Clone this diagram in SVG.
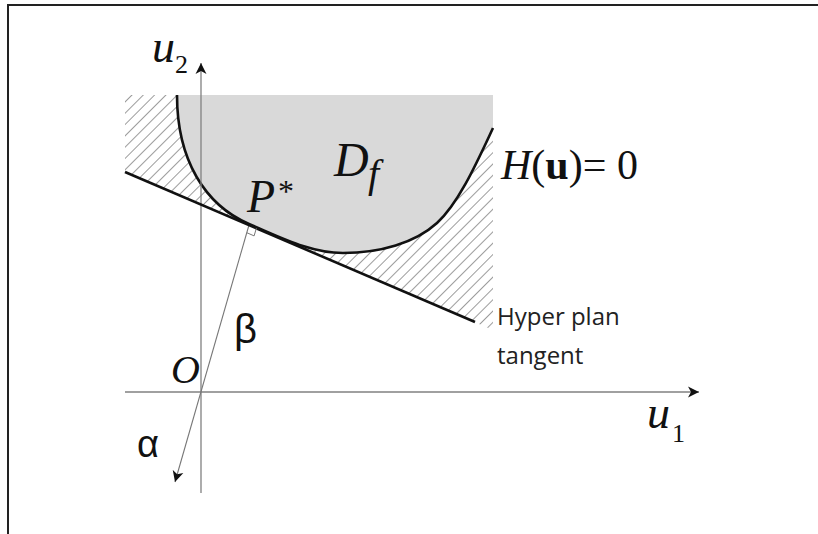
<svg xmlns="http://www.w3.org/2000/svg" width="818" height="534" viewBox="0 0 818 534">
<style>
.serif{font-family:"Liberation Serif","Times New Roman",serif;fill:#111}
.it{font-style:italic}
.sans{font-family:"Liberation Sans",Arial,sans-serif;fill:#111}
.note{font-family:"Open Sans","Liberation Sans",sans-serif;fill:#222}
.axis{stroke:#808080;stroke-width:1.3;fill:none}
.thick{stroke:#111;stroke-width:2.6;fill:none}
</style>
<defs>
<pattern id="hatch" width="8" height="8" patternUnits="userSpaceOnUse" patternTransform="rotate(45)">
<line x1="0" y1="0" x2="0" y2="8" stroke="#3a3a3a" stroke-width="1"/>
</pattern>
<marker id="arr" viewBox="0 0 12 12" refX="11" refY="6" markerWidth="12" markerHeight="12" markerUnits="userSpaceOnUse" orient="auto">
<path d="M0,0.5 L11,6 L0,11.5 L3,6 Z" fill="#111"/>
</marker>
<clipPath id="hclip"><polygon points="125,95 493,95 493,330 125,172"/></clipPath>
</defs>
<g id="frame"><polyline points="8,534 8,5 818,5" fill="none" stroke="#222" stroke-width="2"/></g>
<g id="hatched-region"><rect x="120" y="90" width="380" height="250" fill="url(#hatch)" clip-path="url(#hclip)"/></g>
<g id="feasible-region-Df">
<path d="M177,95 C177,160 205,205 249,224 C280,237 310,253 343,253 C380,253 415,243 437,223 C459,203 478,160 493,128 L493,95 Z" fill="#d9d9d9"/>
<path d="M177,95 C177,160 205,205 249,224 C280,237 310,253 343,253 C380,253 415,243 437,223 C459,203 478,160 493,128" class="thick"/>
<text class="serif it" x="334" y="176" font-size="48">D</text>
<text class="serif it" x="368" y="187" font-size="40">f</text>
</g>
<g id="connectors">
<line class="axis" x1="201" y1="493" x2="201" y2="63" marker-end="url(#arr)"/>
<line class="axis" x1="125" y1="392" x2="699" y2="392" marker-end="url(#arr)"/>
<line x1="249" y1="225" x2="175" y2="482" stroke="#777" stroke-width="1.1" marker-end="url(#arr)"/>
<line class="thick" x1="125" y1="172" x2="475" y2="322"/>
<polyline points="256.4,228.2 254.1,235.9 246.8,232.7" fill="none" stroke="#777" stroke-width="1"/>
</g>
<g id="label-u2"><text class="serif it" x="152" y="62" font-size="46">u</text><text class="serif" x="175" y="73" font-size="26">2</text></g>
<g id="label-u1"><text class="serif it" x="647" y="428" font-size="46">u</text><text class="serif" x="672" y="442" font-size="26">1</text></g>
<g id="label-P"><text class="serif it" x="247" y="212" font-size="46">P</text><text class="serif" x="278" y="202" font-size="32">*</text></g>
<g id="label-H"><text class="serif" x="501" y="179" font-size="42"><tspan font-style="italic">H</tspan>(<tspan font-weight="bold">u</tspan>)= 0</text></g>
<g id="label-O"><text class="serif it" x="171" y="383" font-size="40">O</text></g>
<g id="label-beta"><text class="sans" x="234" y="343" font-size="40">β</text></g>
<g id="label-alpha"><text class="sans" x="137" y="457" font-size="38">α</text></g>
<g id="label-tangent"><text class="note" x="497" y="325" font-size="24">Hyper plan</text><text class="note" x="497" y="364" font-size="24">tangent</text></g>
</svg>
